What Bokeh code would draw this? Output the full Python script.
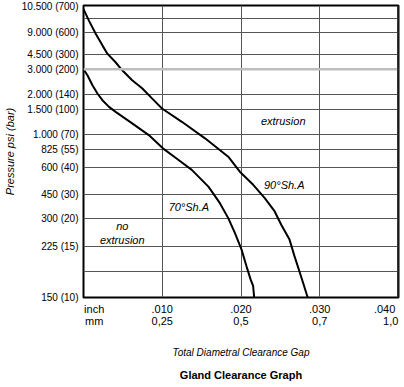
import numpy as np
from bokeh.plotting import figure
from bokeh.models import FixedTicker, Span, Label, Range1d, LinearAxis, Title
from bokeh.embed import file_html
from bokeh.resources import INLINE

# ---- chart data ----
# pressure axis (the chart uses a non-uniform pressure scale)
psi_ticks = [150, 225, 300, 450, 600, 825, 1000, 1500, 2000, 3000, 4500, 9000, 10500]
psi_labels = ["150 (10)", "225 (15)", "300 (20)", "450 (30)", "600 (40)", "825 (55)",
              "1.000 (70)", "1.500 (100)", "2.000 (140)", "3.000 (200)", "4.500 (300)",
              "9.000 (600)", "10.500 (700)"]
scale_pos = [0, 51, 79, 103, 130, 149, 164, 189, 204, 229, 244, 266, 293]
extra_grid_pos = [26, 280]
highlight_psi = 3000

# clearance gap axis
gap_ticks = [0.0, 0.01, 0.02, 0.03, 0.04]
inch_labels = ["inch", ".010", ".020", ".030", ".040"]
mm_labels = ["mm", "0,25", "0,5", "0,7", "1,0"]

# curves: gap (inch) vs pressure (psi)
gap_90 = [0.0, 0.00072, 0.00155, 0.0024, 0.00303, 0.00404, 0.00492, 0.00618, 0.00744, 0.0087,
          0.00997, 0.01249, 0.01543, 0.01838, 0.01985, 0.02155, 0.02302, 0.02428, 0.02511,
          0.02616, 0.02679, 0.02763, 0.02847]
psi_90 = [10300, 9630, 8730, 6340, 4640, 3730, 2960, 2560, 2240, 1860,
          1523, 1246, 950, 734, 579, 506, 429, 346, 284,
          244, 211, 181, 150]

gap_70 = [0.0, 0.0005, 0.00114, 0.00177, 0.0024, 0.00324, 0.00408, 0.00618, 0.00829, 0.01008,
          0.01186, 0.01375, 0.01586, 0.01732, 0.01838, 0.01922, 0.02006, 0.0207, 0.02124,
          0.02154, 0.02167]
psi_70 = [3000, 2760, 2360, 2028, 1800, 1577, 1446, 1214, 988, 833,
          710, 589, 496, 398, 304, 262, 221, 196, 176,
          167, 150]

FONT = "Liberation Sans"
NB = "\u00a0"


def to_scale(psi):
    return np.interp(psi, psi_ticks, scale_pos)


def edge_pad(labels, lead, trail):
    # first label sits just right of the frame edge, last one just left of it
    out = list(labels)
    out[0] = NB * lead + out[0]
    out[-1] = out[-1] + NB * trail
    return out


p = figure(width=404, height=387, x_range=Range1d(0, 0.04), y_range=Range1d(0, scale_pos[-1]),
           output_backend="svg", toolbar_location=None,
           min_border_left=81, min_border_right=6, min_border_top=5, min_border_bottom=0)
p.background_fill_color = "white"
p.border_fill_color = "white"
p.outline_line_color = "black"
p.outline_line_width = 2

# grids
p.xgrid.ticker = FixedTicker(ticks=gap_ticks[1:-1])
p.xgrid.grid_line_color = "#555555"
p.xgrid.grid_line_width = 1
hl = float(to_scale(highlight_psi))
ygrid_ticks = [v for v in scale_pos[1:-1] if v != hl] + extra_grid_pos
p.ygrid.ticker = FixedTicker(ticks=ygrid_ticks)
p.ygrid.grid_line_color = "#555555"
p.ygrid.grid_line_width = 1
p.add_layout(Span(location=hl, dimension="width", line_color="#bdbdbd", line_width=2.5))
p.add_layout(Span(location=gap_ticks[-1], dimension="height", line_color="#333333", line_width=3))


def style_axis(ax, size="10px", standoff=5):
    ax.minor_tick_line_color = None
    ax.major_tick_line_color = None
    ax.major_tick_out = 0
    ax.major_tick_in = 0
    ax.axis_line_color = None
    ax.major_label_standoff = standoff
    ax.major_label_text_font = FONT
    ax.major_label_text_font_size = size
    ax.major_label_text_color = "black"
    ax.axis_label_text_font = FONT
    ax.axis_label_text_font_style = "italic"
    ax.axis_label_text_color = "black"


# y axis
ya = p.yaxis[0]
ya.ticker = FixedTicker(ticks=scale_pos)
ya.major_label_overrides = {v: lab for v, lab in zip(scale_pos, psi_labels)}
style_axis(ya, "10px", 5)
ya.axis_label = "Pressure psi (bar)"
ya.axis_label_text_font_size = "11px"
ya.axis_label_standoff = 3

# x axes: inch row, mm row
xa = p.xaxis[0]
xa.ticker = FixedTicker(ticks=gap_ticks)
xa.major_label_overrides = {v: lab for v, lab in zip(gap_ticks, edge_pad(inch_labels, 7, 3))}
style_axis(xa, "11px", 5)

mma = LinearAxis(ticker=FixedTicker(ticks=gap_ticks),
                 major_label_overrides={v: lab for v, lab in zip(gap_ticks, edge_pad(mm_labels, 7, 2))})
style_axis(mma, "11px", -3)
mma.axis_label = "Total Diametral Clearance Gap"
mma.axis_label_text_font_size = "10px"
mma.axis_label_standoff = 17
p.add_layout(mma, "below")

p.add_layout(Title(text="Gland Clearance Graph", align="center", text_font=FONT,
                   text_font_style="bold", text_font_size="11px", text_color="black",
                   standoff=13), "below")

# curves
p.line(gap_90, to_scale(psi_90), line_color="black", line_width=2)
p.line(gap_70, to_scale(psi_70), line_color="black", line_width=2)


# region / curve labels
def tlabel(x, y, text):
    p.add_layout(Label(x=x, y=y, text=text, text_font=FONT, text_font_size="11px",
                       text_font_style="italic", text_align="center",
                       text_baseline="middle", text_color="black"))


tlabel(0.02536, 177, "extrusion")
tlabel(0.02549, 113, "90°Sh.A")
tlabel(0.01338, 91, "70°Sh.A")
tlabel(0.00492, 72, "no")
tlabel(0.00492, 58, "extrusion")

open("out.html", "w").write(file_html(p, INLINE))
